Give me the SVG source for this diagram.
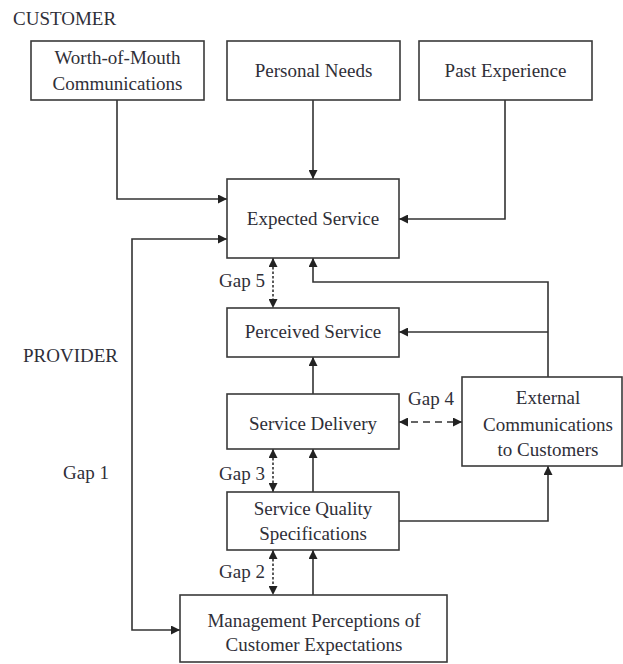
<svg xmlns="http://www.w3.org/2000/svg" width="623" height="664" viewBox="0 0 623 664">
<style>
.box{fill:#fff;stroke:#3a3a3a;stroke-width:1.6}
.t{font-family:"Liberation Serif","Times New Roman",serif;font-size:19px;fill:#2f2f38;text-anchor:middle}
.l{font-family:"Liberation Serif","Times New Roman",serif;font-size:19px;fill:#2f2f38}
.c{fill:none;stroke:#333;stroke-width:1.6}
.d{stroke-dasharray:2.5,2}
.d4{stroke-dasharray:7,5}
</style>
<defs>
<marker id="ah" viewBox="0 0 10 10" refX="10" refY="5" markerWidth="9" markerHeight="9" markerUnits="userSpaceOnUse" orient="auto-start-reverse">
<path d="M0,0 L10,5 L0,10 z" fill="#222"/>
</marker>
</defs>
<rect width="623" height="664" fill="#fff"/>
<text class="l" x="13" y="25">CUSTOMER</text>
<text class="l" x="23" y="362">PROVIDER</text>
<text class="l" x="63" y="479">Gap 1</text>
<text class="l" x="219" y="287">Gap 5</text>
<text class="l" x="408" y="405">Gap 4</text>
<text class="l" x="219" y="480">Gap 3</text>
<text class="l" x="219" y="578">Gap 2</text>
<g id="connectors">
<path class="c" d="M117,100 V199 H227" marker-end="url(#ah)"/>
<path class="c" d="M313,100 V179" marker-end="url(#ah)"/>
<path class="c" d="M505,100 V219 H399" marker-end="url(#ah)"/>
<path class="c" d="M180,630 H132 V239 H227" marker-start="url(#ah)" marker-end="url(#ah)"/>
<path class="c d" d="M273,258 V308" marker-start="url(#ah)" marker-end="url(#ah)"/>
<path class="c" d="M548,377 V282 H313 V258" marker-end="url(#ah)"/>
<path class="c" d="M548,332 H399" marker-end="url(#ah)"/>
<path class="c" d="M313,394 V357" marker-end="url(#ah)"/>
<path class="c d4" d="M399,422 H462" marker-start="url(#ah)" marker-end="url(#ah)"/>
<path class="c d" d="M273,449 V492" marker-start="url(#ah)" marker-end="url(#ah)"/>
<path class="c" d="M313,492 V449" marker-end="url(#ah)"/>
<path class="c" d="M399,521 H548 V466" marker-end="url(#ah)"/>
<path class="c d" d="M273,550 V595" marker-start="url(#ah)" marker-end="url(#ah)"/>
<path class="c" d="M313,595 V550" marker-end="url(#ah)"/>
</g>
<g id="worth"><rect class="box" x="31" y="41" width="173" height="59"/><text class="t" x="117.5" y="64">Worth-of-Mouth</text><text class="t" x="117.5" y="90">Communications</text></g>
<g id="needs"><rect class="box" x="227" y="41" width="173" height="59"/><text class="t" x="313.5" y="77">Personal Needs</text></g>
<g id="past"><rect class="box" x="419" y="41" width="173" height="59"/><text class="t" x="505.5" y="77">Past Experience</text></g>
<g id="expected"><rect class="box" x="227" y="179" width="172" height="79"/><text class="t" x="313" y="225">Expected Service</text></g>
<g id="perceived"><rect class="box" x="227" y="308" width="172" height="49"/><text class="t" x="313" y="338">Perceived Service</text></g>
<g id="delivery"><rect class="box" x="227" y="394" width="172" height="55"/><text class="t" x="313" y="430">Service Delivery</text></g>
<g id="external"><rect class="box" x="462" y="377" width="160" height="89"/><text class="t" x="548" y="404">External</text><text class="t" x="548" y="431">Communications</text><text class="t" x="548" y="456">to Customers</text></g>
<g id="spec"><rect class="box" x="227" y="492" width="172" height="58"/><text class="t" x="313" y="515">Service Quality</text><text class="t" x="313" y="540">Specifications</text></g>
<g id="mgmt"><rect class="box" x="180" y="595" width="267" height="67"/><text class="t" x="314" y="627">Management Perceptions of</text><text class="t" x="314" y="651">Customer Expectations</text></g>
</svg>
